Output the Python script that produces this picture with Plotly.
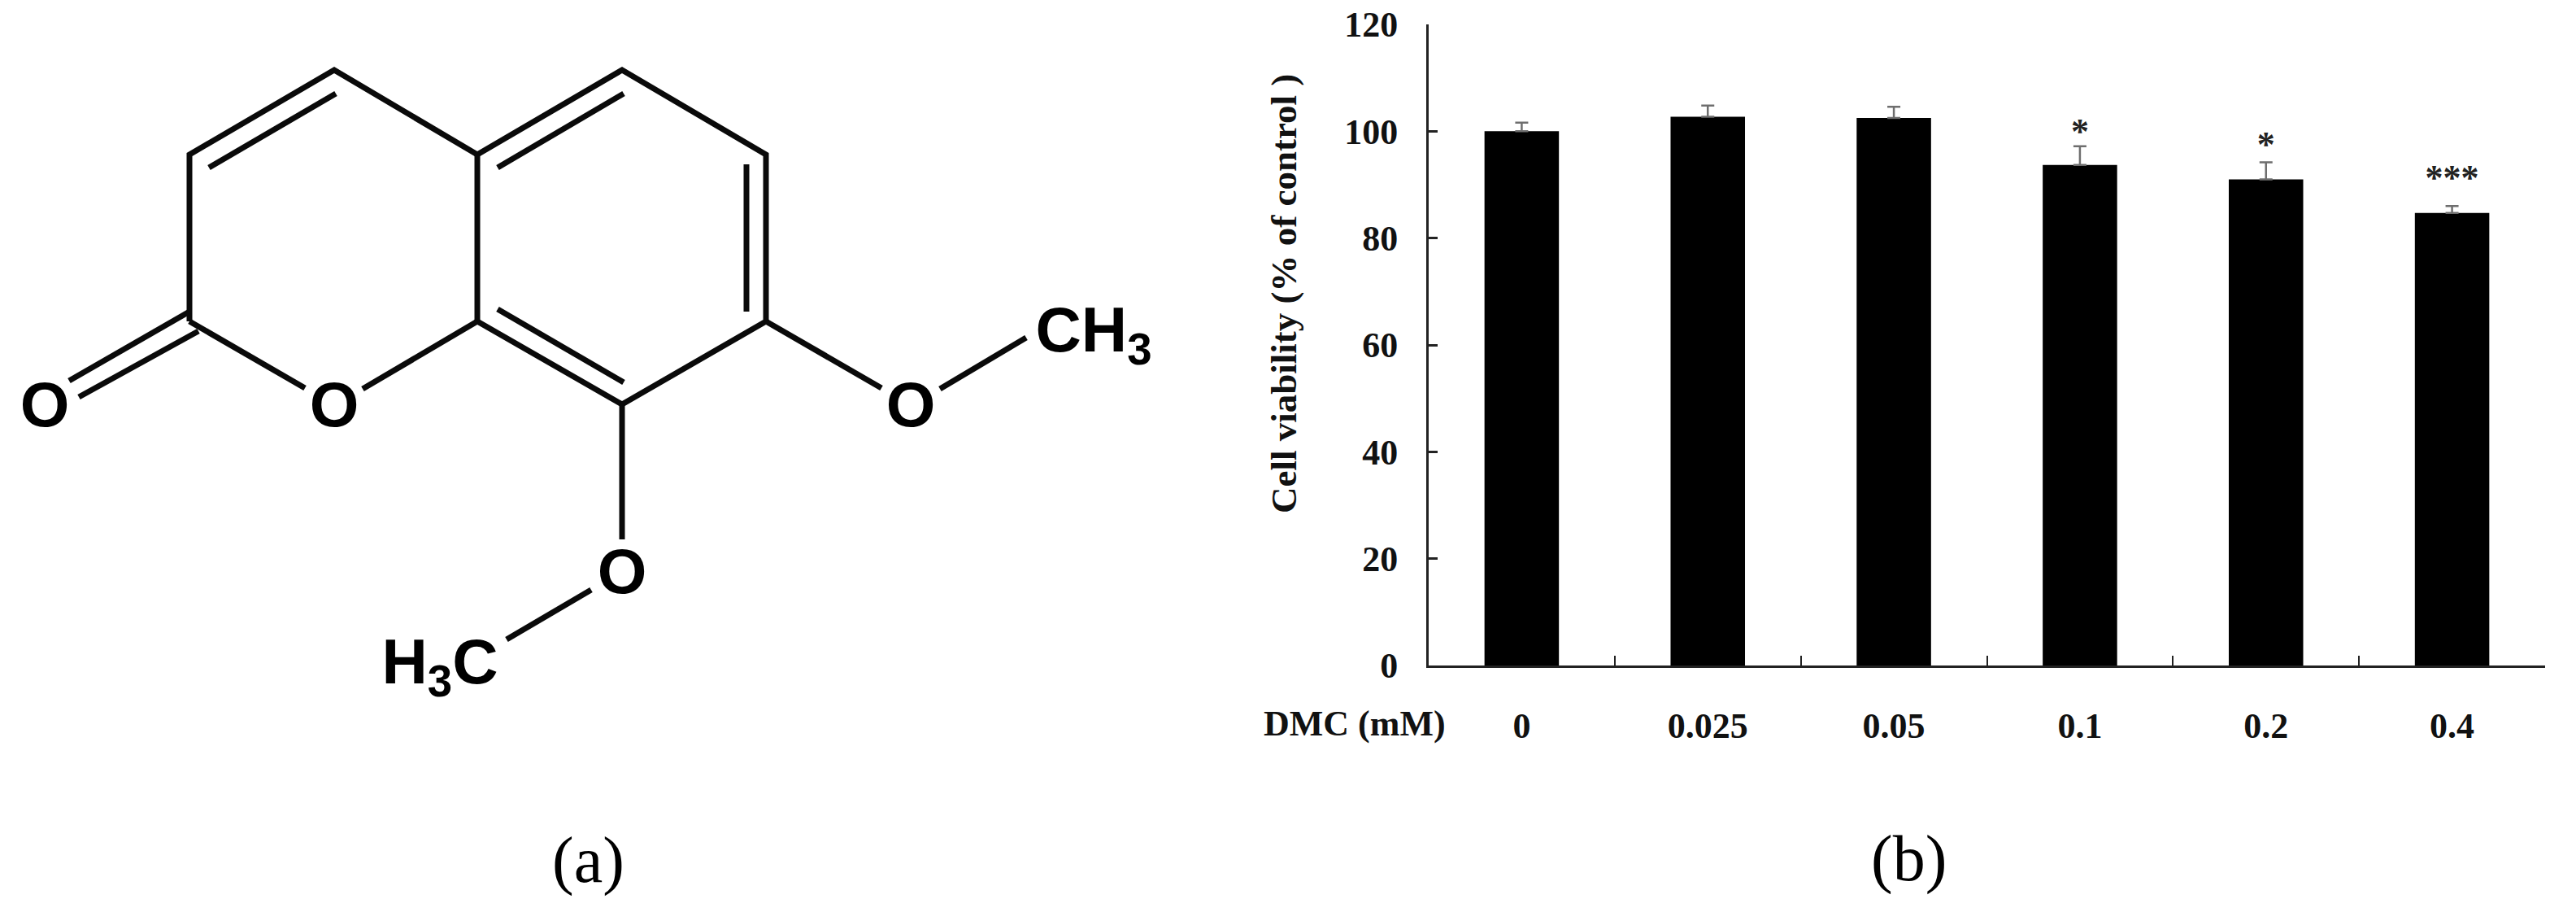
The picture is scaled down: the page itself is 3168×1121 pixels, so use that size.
import plotly.graph_objects as go

W, H = 3168, 1121
SERIF = "Liberation Serif"
SANS = "Liberation Sans"

# Panel (b) data
doses = ["0", "0.025", "0.05", "0.1", "0.2", "0.4"]
viability = [100.0, 102.7, 102.5, 93.7, 91.0, 84.7]
errors = [1.6, 2.1, 2.1, 3.5, 3.2, 1.3]
star_doses = ["0.1", "0.2", "0.4"]
star_labels = ["*", "*", "***"]
star_levels = [99.5, 97.0, 90.8]
y_ticks = [0, 20, 40, 60, 80, 100, 120]

# Panel (a) data: bond segments of the structure, in page pixels
bonds_outer = [
    [(233, 395), (233, 190), (411, 86), (587, 190), (765, 86), (942, 190), (942, 395), (765, 497), (587, 395)],
    [(587, 190), (587, 395)],
    [(233, 395), (375, 477)],
    [(446, 478), (587, 395)],
    [(942, 395), (1084, 477)],
    [(1156, 478), (1262, 415)],
    [(765, 497), (765, 663)],
    [(727, 725), (623, 786)],
]
bonds_inner = [
    [(257, 206), (413, 115)],
    [(612, 206), (767, 115)],
    [(918, 202), (918, 383)],
    [(767, 470), (612, 380)],
    [(233, 383), (85, 468)],
    [(244, 407), (97, 488)],
]
atom_labels = ["O", "O", "O", "O", "CH<sub>3</sub>", "H<sub>3</sub>C"]
atom_x = [55, 411, 1120, 765, 1345, 541]
atom_y = [504, 504, 504, 709, 412, 820]

bond_x, bond_y = [], []
for seg in bonds_outer + bonds_inner:
    bond_x += [p[0] for p in seg] + [None]
    bond_y += [p[1] for p in seg] + [None]


def xdom(a, b):
    return [a / W, b / W]


def ydom(top, bottom):
    return [1 - bottom / H, 1 - top / H]


fig = go.Figure()
fig.add_trace(go.Bar(
    x=doses, y=viability, marker=dict(color="#000000", line=dict(width=0)),
    error_y=dict(type="data", symmetric=False, array=errors, arrayminus=[0] * 6,
                 color="#6e6e6e", thickness=2.5, width=8),
    xaxis="x", yaxis="y", showlegend=False,
))
fig.add_trace(go.Scatter(
    x=star_doses, y=star_levels, text=[f"<b>{s}</b>" for s in star_labels], mode="text",
    textposition="middle center", textfont=dict(family=SERIF, size=44, color="#222222"),
    xaxis="x", yaxis="y", showlegend=False,
))
fig.add_trace(go.Scatter(
    x=bond_x, y=bond_y, mode="lines", line=dict(color="#0a0a0a", width=7),
    xaxis="x2", yaxis="y2", showlegend=False, connectgaps=False,
))
fig.add_trace(go.Scatter(
    x=atom_x, y=atom_y, text=[f"<b>{s}</b>" for s in atom_labels], mode="text",
    textposition="middle center",
    textfont=dict(family=SANS, size=78, color="#000000"),
    xaxis="x2", yaxis="y2", showlegend=False,
))

fig.update_layout(
    width=W, height=H, margin=dict(l=0, r=0, t=0, b=0, autoexpand=False),
    paper_bgcolor="white", plot_bgcolor="rgba(0,0,0,0)", bargap=0.6,
    xaxis=dict(
        domain=xdom(1757, 3130), type="category", categoryorder="array", categoryarray=doses,
        showgrid=False, zeroline=False, showline=True, linecolor="#222222", linewidth=3,
        ticks="inside", ticklen=12, tickwidth=2, tickcolor="#222222", tickson="boundaries",
        ticklabelstandoff=33, anchor="y",
        tickvals=doses, ticktext=[f"<b>{d}</b>" for d in doses],
        tickfont=dict(family=SERIF, size=44, color="#111111"), automargin=False,
    ),
    yaxis=dict(
        domain=ydom(30, 818), range=[0, 120], tickmode="array", tickvals=y_ticks,
        ticktext=[f"<b>{t}</b>" for t in y_ticks],
        showgrid=False, zeroline=False, showline=True, linecolor="#222222", linewidth=3,
        ticks="inside", ticklen=11, tickwidth=2.5, tickcolor="#222222", anchor="x",
        ticklabelstandoff=26, ticklabeloverflow="allow",
        tickfont=dict(family=SERIF, size=44, color="#111111"), automargin=False,
    ),
    xaxis2=dict(domain=[0, 1], range=[0, W], visible=False, anchor="y2", fixedrange=True),
    yaxis2=dict(domain=[0, 1], range=[H, 0], visible=False, anchor="x2", fixedrange=True),
    annotations=[
        dict(text="<b>Cell viability (% of control )</b>", x=1579, y=361, xref="x2", yref="y2",
             textangle=-90, showarrow=False, font=dict(family=SERIF, size=45, color="#111111")),
        dict(text="<b>DMC (mM)</b>", x=1666, y=889, xref="x2", yref="y2", showarrow=False,
             font=dict(family=SERIF, size=44, color="#111111")),
        dict(text="(a)", x=723, y=1057, xref="x2", yref="y2", showarrow=False,
             font=dict(family=SERIF, size=80, color="#000000")),
        dict(text="(b)", x=2347, y=1055, xref="x2", yref="y2", showarrow=False,
             font=dict(family=SERIF, size=80, color="#000000")),
    ],
)
fig.write_html("out.html", config={"displayModeBar": False},
               post_script="document.body.style.margin='0';")
